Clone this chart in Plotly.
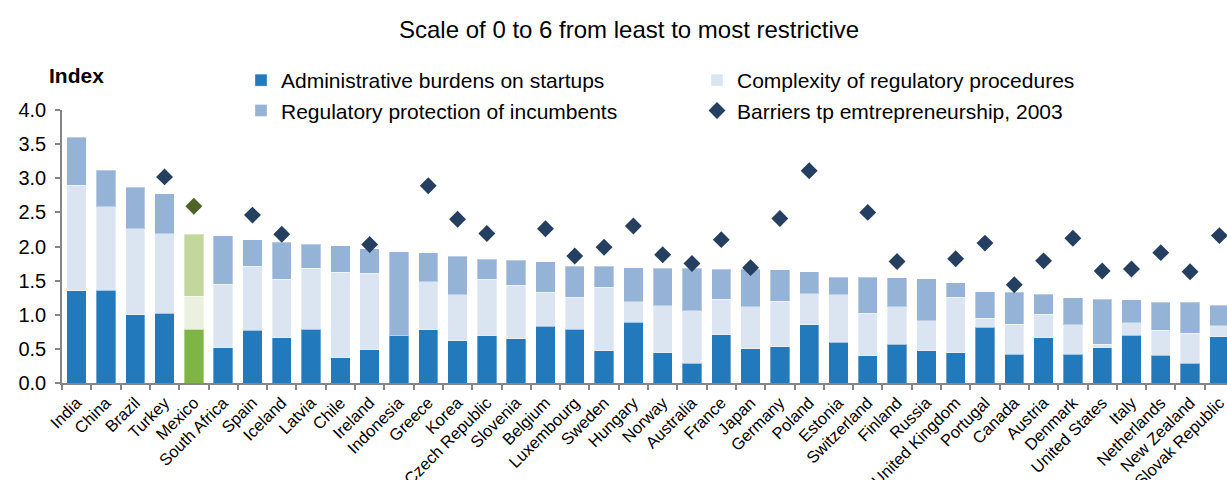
import plotly.graph_objects as go

countries = [
    "India", "China", "Brazil", "Turkey", "Mexico", "South Africa", "Spain", "Iceland",
    "Latvia", "Chile", "Ireland", "Indonesia", "Greece", "Korea", "Czech Republic",
    "Slovenia", "Belgium", "Luxembourg", "Sweden", "Hungary", "Norway", "Australia",
    "France", "Japan", "Germany", "Poland", "Estonia", "Switzerland", "Finland", "Russia",
    "United Kingdom", "Portugal", "Canada", "Austria", "Denmark", "United States", "Italy",
    "Netherlands", "New Zealand", "Slovak Republic",
]

admin_burdens = [
    1.35, 1.36, 1.00, 1.02, 0.79, 0.52, 0.77, 0.66, 0.79, 0.37, 0.49, 0.69, 0.78, 0.62,
    0.69, 0.65, 0.83, 0.79, 0.47, 0.89, 0.44, 0.29, 0.71, 0.50, 0.53, 0.85, 0.60, 0.40,
    0.57, 0.47, 0.44, 0.82, 0.42, 0.66, 0.42, 0.52, 0.70, 0.41, 0.29, 0.68,
]

complexity = [
    1.55, 1.22, 1.26, 1.17, 0.48, 0.93, 0.94, 0.86, 0.89, 1.25, 1.12, 0.00, 0.70, 0.67,
    0.83, 0.78, 0.50, 0.47, 0.93, 0.30, 0.69, 0.77, 0.52, 0.62, 0.67, 0.46, 0.69, 0.62,
    0.55, 0.44, 0.82, 0.13, 0.44, 0.35, 0.43, 0.05, 0.18, 0.36, 0.44, 0.16,
]

incumbents = [
    0.70, 0.54, 0.61, 0.58, 0.91, 0.71, 0.39, 0.54, 0.35, 0.39, 0.36, 1.23, 0.43, 0.57,
    0.29, 0.37, 0.45, 0.45, 0.31, 0.50, 0.55, 0.62, 0.44, 0.55, 0.46, 0.32, 0.26, 0.53,
    0.42, 0.62, 0.21, 0.39, 0.47, 0.29, 0.40, 0.66, 0.34, 0.41, 0.45, 0.30,
]

barriers_2003 = [
    None, None, None, 3.02, 2.59, None, 2.46, 2.18, None, None, 2.03, None, 2.89, 2.40,
    2.19, None, 2.26, 1.86, 1.99, 2.30, 1.88, 1.75, 2.10, 1.69, 2.41, 3.11, None, 2.50,
    1.78, None, 1.82, 2.05, 1.44, 1.79, 2.12, 1.64, 1.67, 1.91, 1.63, 2.16,
]

y_ticks = [0.0, 0.5, 1.0, 1.5, 2.0, 2.5, 3.0, 3.5, 4.0]

highlight = "Mexico"

# OECD-style blues, greens for the highlighted country
def shade(base, accent):
    return [accent if c == highlight else base for c in countries]

col_admin = shade("#2279bb", "#7eb545")
col_complex = shade("#dbe5f1", "#ebf1de")
col_incumb = shade("#95b3d7", "#c3d69b")
col_diamond = shade("#243f60", "#4f6228")

FONT = "Liberation Sans, Arial, sans-serif"
edge = dict(color="rgba(255,255,255,0.35)", width=1)

fig = go.Figure()
fig.add_trace(go.Bar(
    x=countries, y=admin_burdens, name="Administrative burdens on startups",
    marker=dict(color=col_admin, line=edge),
))
fig.add_trace(go.Bar(
    x=countries, y=complexity, name="Complexity of regulatory procedures",
    marker=dict(color=col_complex, line=edge),
))
fig.add_trace(go.Bar(
    x=countries, y=incumbents, name="Regulatory protection of incumbents",
    marker=dict(color=col_incumb, line=edge),
))
fig.add_trace(go.Scatter(
    x=countries, y=barriers_2003, mode="markers",
    name="Barriers tp emtrepreneurship, 2003",
    marker=dict(symbol="diamond", size=13, color=col_diamond, line=dict(width=0)),
))

plot_left = 62
plot_top = 110
plot_w = 1227 - plot_left
plot_h = 383 - plot_top


def px_x(px):
    return (px - plot_left) / plot_w


def px_y(py):
    return 1 + (plot_top - py) / plot_h


fig.update_layout(
    width=1227, height=480,
    margin=dict(l=plot_left, r=0, t=plot_top, b=480 - 383, autoexpand=False),
    paper_bgcolor="white", plot_bgcolor="white",
    barmode="stack", bargap=0.34,
    font=dict(family=FONT, color="#000000"),
    showlegend=True,
    legend=dict(
        orientation="h", x=px_x(241), xanchor="left",
        y=px_y(60), yanchor="top",
        entrywidth=411, entrywidthmode="pixels",
        font=dict(size=21, family=FONT), bgcolor="rgba(0,0,0,0)",
        itemclick=False, itemdoubleclick=False,
        traceorder="normal",
    ),
    xaxis=dict(
        type="category", range=[-0.5, 39.26],
        showline=True, linecolor="#868686", linewidth=1.5,
        ticks="outside", ticklen=5, tickcolor="#868686", tickwidth=1.5,
        tickson="boundaries", ticklabelstandoff=2,
        tickangle=-45, tickfont=dict(size=16.5, family=FONT, color="#000000"),
        showgrid=False, zeroline=False, automargin=False,
    ),
    yaxis=dict(
        range=[0, 4], tickvals=y_ticks, ticktext=[f"{v:.1f}" for v in y_ticks],
        showline=True, linecolor="#868686", linewidth=1.5,
        ticks="outside", ticklen=5, tickcolor="#868686", tickwidth=1.5,
        ticklabelstandoff=5,
        tickfont=dict(size=20, family=FONT, color="#000000"),
        showgrid=False, zeroline=False, automargin=False,
    ),
    annotations=[
        dict(
            text="Scale of 0 to 6 from least to most restrictive",
            xref="paper", yref="paper",
            x=px_x(628.5), y=px_y(30),
            xanchor="center", yanchor="middle", showarrow=False,
            font=dict(size=24, family=FONT, color="#000000"),
        ),
        dict(
            text="<b>Index</b>",
            xref="paper", yref="paper",
            x=px_x(47), y=px_y(75),
            xanchor="left", yanchor="middle", showarrow=False,
            font=dict(size=21, family=FONT, color="#000000"),
        ),
    ],
)

fig.write_html("out.html")
